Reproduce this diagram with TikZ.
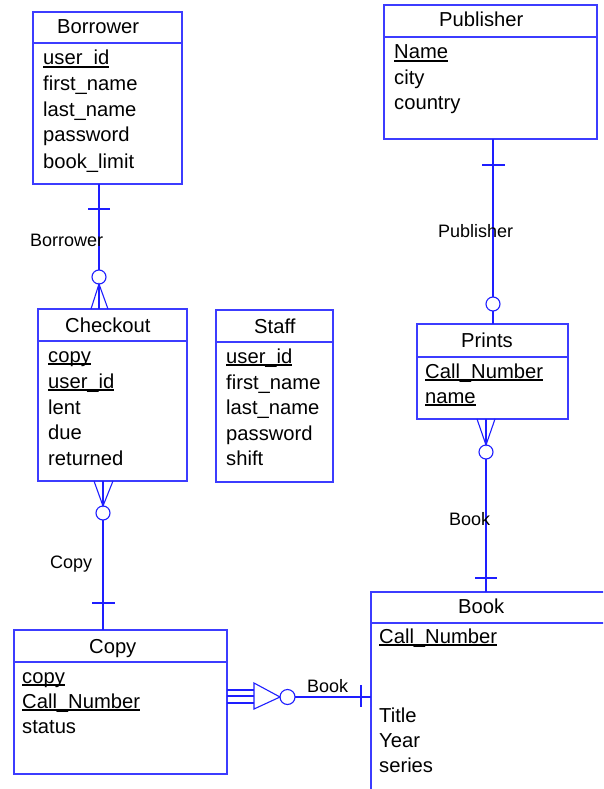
\documentclass[tikz,border=0pt]{standalone}
\usepackage{fontspec}
\setmainfont{Liberation Sans}
\definecolor{boxblue}{RGB}{60,60,255}
\definecolor{lineblue}{RGB}{30,30,255}
\newcommand\undr[1]{\setbox0=\hbox{#1}\rlap{\rule[-2.8pt]{\wd0}{1.4pt}}\box0}
\begin{document}
\begin{tikzpicture}[x=1pt,y=-1pt,
  ent/.style={draw=boxblue, line width=1.2pt, rectangle, anchor=north west, inner sep=0pt, outer sep=0pt},
  hdr/.style={draw=boxblue, line width=1.2pt},
  txt/.style={anchor=base west, inner sep=0pt, font=\fontsize{20.2}{24}\selectfont},
  lbl/.style={anchor=base west, inner sep=0pt, font=\fontsize{18}{22}\selectfont},
  conn/.style={draw=lineblue, line width=1.1pt},
  opt/.style={circle, draw=lineblue, line width=1.1pt, fill=white, minimum size=14pt, inner sep=0pt, outer sep=0pt}]
\useasboundingbox (0,0) rectangle (603,789);
\clip (0,0) rectangle (603,789);
\fill[white] (0,0) rectangle (603,789);

% ---------- entities ----------
\node[ent, minimum width=149pt, minimum height=172pt] (borrower) at (33,12) {};
\draw[hdr] (33,43) -- (182,43);
\node[txt] (borrowerT) at (57,34) {Borrower};
\node[txt] at (43,65) {\undr{user\_id}};
\node[txt] at (43,91) {first\_name};
\node[txt] at (43,117) {last\_name};
\node[txt] at (43,142) {password};
\node[txt] at (43,168) {book\_limit};

\node[ent, minimum width=149pt, minimum height=172pt] (checkout) at (38,309) {};
\draw[hdr] (38,341) -- (187,341);
\node[txt] (checkoutT) at (65,332) {Checkout};
\node[txt] at (48,362) {\undr{copy}};
\node[txt] at (48,388) {\undr{user\_id}};
\node[txt] at (48,414) {lent};
\node[txt] at (48,439) {due};
\node[txt] at (48,465) {returned};

\node[ent, minimum width=117pt, minimum height=172pt] (staff) at (216,310) {};
\draw[hdr] (216,342) -- (333,342);
\node[txt] (staffT) at (254,333) {Staff};
\node[txt] at (226,363) {\undr{user\_id}};
\node[txt] at (226,389) {first\_name};
\node[txt] at (226,414) {last\_name};
\node[txt] at (226,440) {password};
\node[txt] at (226,465) {shift};

\node[ent, minimum width=213pt, minimum height=134pt] (publisher) at (384,5) {};
\draw[hdr] (384,37) -- (597,37);
\node[txt] (publisherT) at (439,27) {Publisher};
\node[txt] at (394,59) {\undr{Name}};
\node[txt] at (394,85) {city};
\node[txt] at (394,110) {country};

\node[ent, minimum width=151pt, minimum height=95pt] (prints) at (417,324) {};
\draw[hdr] (417,357) -- (568,357);
\node[txt] (printsT) at (461,347) {Prints};
\node[txt] at (425,378) {\undr{Call\_Number}};
\node[txt] at (425,403) {\undr{name}};

\node[ent, minimum width=260pt, minimum height=230pt] (book) at (371,592) {};
\draw[hdr] (371,623) -- (631,623);
\node[txt] (bookT) at (458,613) {Book};
\node[txt] at (379,643) {\undr{Call\_Number}};
\node[txt] at (379,722) {Title};
\node[txt] at (379,747) {Year};
\node[txt] at (379,772) {series};

\node[ent, minimum width=213pt, minimum height=144pt] (copy) at (14,630) {};
\draw[hdr] (14,662) -- (227,662);
\node[txt] (copyT) at (89,653) {Copy};
\node[txt] at (22,683) {\undr{copy}};
\node[txt] at (22,708) {\undr{Call\_Number}};
\node[txt] at (22,733) {status};

% ---------- Borrower -- Checkout ----------
\coordinate (r1top) at (99,184);
\coordinate (r1ta) at (88,209);
\coordinate (r1tb) at (110,209);
\node[opt] (r1o) at (99,277) {};
\coordinate (r1fa) at (91,309);
\coordinate (r1fb) at (99,309);
\coordinate (r1fc) at (108,309);
\draw[conn] (r1top) -- (r1o.north);
\draw[conn] (r1ta) -- (r1tb);
\draw[conn] (r1fa) -- (r1o.south) -- (r1fc);
\draw[conn] (r1o.south) -- (r1fb);
\node[lbl] (r1l) at (30,246) {Borrower};

% ---------- Checkout -- Copy ----------
\coordinate (r2fa) at (94,481);
\coordinate (r2fb) at (103,481);
\coordinate (r2fc) at (113,481);
\node[opt] (r2o) at (103,513) {};
\coordinate (r2ta) at (92,603);
\coordinate (r2tb) at (115,603);
\coordinate (r2bot) at (103,630);
\draw[conn] (r2fa) -- (r2o.north) -- (r2fc);
\draw[conn] (r2fb) -- (r2o.north);
\draw[conn] (r2o.south) -- (r2bot);
\draw[conn] (r2ta) -- (r2tb);
\node[lbl] (r2l) at (50,568) {Copy};

% ---------- Publisher -- Prints ----------
\coordinate (r3top) at (493,139);
\coordinate (r3ta) at (482,165);
\coordinate (r3tb) at (505,165);
\node[opt] (r3o) at (493,304) {};
\coordinate (r3bot) at (493,324);
\draw[conn] (r3top) -- (r3o.north);
\draw[conn] (r3o.south) -- (r3bot);
\draw[conn] (r3ta) -- (r3tb);
\node[lbl] (r3l) at (438,237) {Publisher};

% ---------- Prints -- Book ----------
\coordinate (r4fa) at (477,419);
\coordinate (r4fb) at (486,419);
\coordinate (r4fc) at (495,419);
\node[opt] (r4o) at (486,452) {};
\coordinate (r4ta) at (475,578);
\coordinate (r4tb) at (497,578);
\coordinate (r4bot) at (486,592);
\draw[conn] (r4fa) -- (r4o.north) -- (r4fc);
\draw[conn] (r4fb) -- (r4o.north);
\draw[conn] (r4o.south) -- (r4bot);
\draw[conn] (r4ta) -- (r4tb);
\node[lbl] (r4l) at (449,525) {Book};

% ---------- Copy -- Book ----------
\coordinate (r5a1) at (227,690);
\coordinate (r5a2) at (227,696);
\coordinate (r5a3) at (227,703);
\coordinate (r5b1) at (254,690);
\coordinate (r5b2) at (254,696);
\coordinate (r5b3) at (254,703);
\coordinate (r5tu) at (254,683);
\coordinate (r5tl) at (254,709);
\coordinate (r5tp) at (280,697);
\node[opt, minimum size=15pt] (r5o) at (287.5,697) {};
\coordinate (r5end) at (371,697);
\coordinate (r5ta) at (361,685);
\coordinate (r5tb) at (361,707);
\draw[conn] (r5a1) -- (r5b1);
\draw[conn] (r5a2) -- (r5b2);
\draw[conn] (r5a3) -- (r5b3);
\draw[conn] (r5tu) -- (r5tp) -- (r5tl) -- cycle;
\draw[conn] (r5o.east) -- (r5end);
\draw[conn] (r5ta) -- (r5tb);
\node[lbl] (r5l) at (307,692) {Book};
\end{tikzpicture}
\end{document}
